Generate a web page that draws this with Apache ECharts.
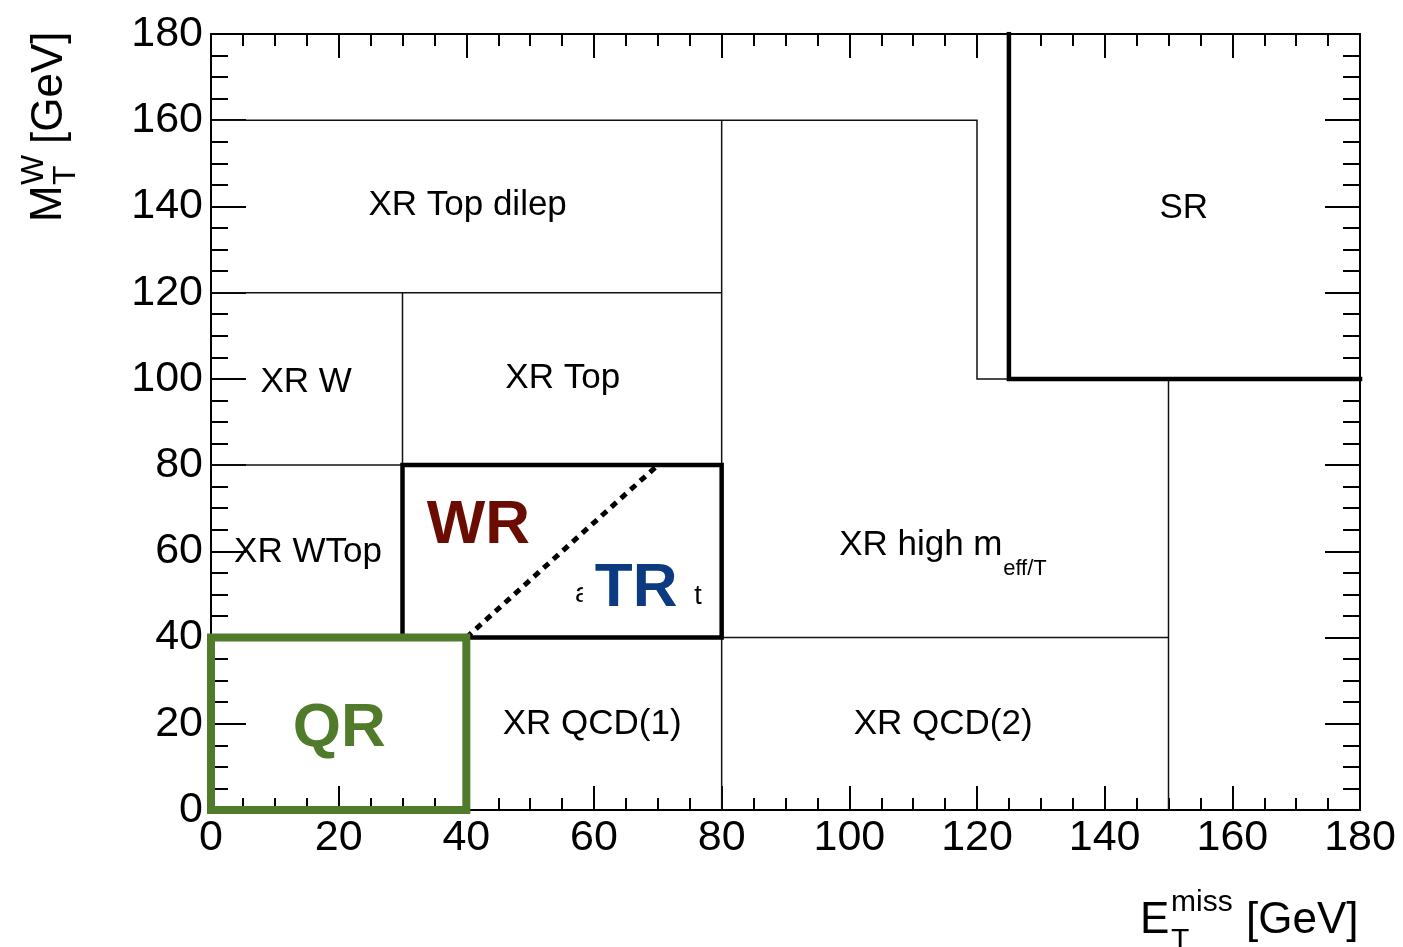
<!DOCTYPE html>
<html><head><meta charset="utf-8">
<script src="https://cdn.jsdelivr.net/npm/echarts@6/dist/echarts.min.js"></script>
<style>html,body{margin:0;padding:0;background:#fff}#c{width:1403px;height:947px}</style>
</head><body><div id="c"></div>
<script>
// ---- data ----
const xTickLabels = ['0','20','40','60','80','100','120','140','160','180'];
const yTickLabels = ['0','20','40','60','80','100','120','140','160','180'];

// thin region boundaries (polylines in GeV units)
const thinSegments = [
  [[0,160],[120,160],[120,100],[125,100]],
  [[0,120],[80,120]],
  [[0,80],[30,80]],
  [[30,80],[30,120]],
  [[80,0],[80,160]],
  [[80,40],[150,40]],
  [[150,0],[150,100]],
  [[0,40],[40,40],[40,0]]
];
// thick black boxes (WR/TR and SR)
const thickSegments = [
  [[30,40],[80,40],[80,80],[30,80],[30,40]],
  [[125,180],[125,100],[180,100]]
];
// QR box
const qrBox = [[0,0],[40,0],[40,40],[0,40],[0,0]];
// WR / TR divider
const divider = [[40,40],[70,80]];

// region labels
const labelTexts = ['a','t','XR Top dilep','XR W','XR Top','XR WTop','XR high m','eff/T','XR QCD(1)','XR QCD(2)','SR','WR','TR','QR'];
const labelX     = [58.2, 76.3, 40.2, 14.9, 55.1, 15.2, 111.2, 124.1, 59.7, 114.7, 152.4, 41.9, 66.6, 20.1];
const labelY     = [50.0, 49.4, 140.8, 99.7, 100.7, 60.3, 61.9, 56.1, 20.4, 20.4, 140.1, 66.7, 52.1, 19.5];
const labelKinds = ['frag','frag','region','region','region','region','region','sub','region','region','region','wr','tr','qr'];

// ---- styles ----
const FONT = '"Liberation Sans", Arial, Helvetica, sans-serif';
const kindStyle = {
  region: {fontSize: 35, color: '#000', offset: [0, 2]},
  sub:    {fontSize: 22, color: '#000', align: 'left', offset: [0, 1]},
  wr:     {fontSize: 62, fontWeight: 'bold', color: '#6a0c02', offset: [0, 3]},
  tr:     {fontSize: 62, fontWeight: 'bold', color: '#0b3a80', backgroundColor: '#fff', padding: [0, 12, 0, 12], offset: [0, 4]},
  qr:     {fontSize: 62, fontWeight: 'bold', color: '#4f7b2a', offset: [0, 3]},
  frag:   {fontSize: 27, color: '#000', offset: [0, 0]}
};

const chart = echarts.init(document.getElementById('c'), null, {renderer: 'canvas'});

function xAxisCfg(pos, showLabel) {
  return {
    type: 'value', position: pos, min: 0, max: 180, interval: 20,
    axisLine: {show: true, onZero: false, lineStyle: {color: '#000', width: 2}},
    axisTick: {show: true, inside: true, length: 24, lineStyle: {color: '#000', width: 2}},
    minorTick: {show: true, splitNumber: 4, length: 12, lineStyle: {color: '#000', width: 2}},
    splitLine: {show: false}, minorSplitLine: {show: false},
    axisLabel: {show: showLabel, fontSize: 43, fontFamily: FONT, color: '#000', margin: 7,
      formatter: v => xTickLabels[Math.round(v / 20)]}
  };
}
function yAxisCfg(pos, showLabel) {
  return {
    type: 'value', position: pos, min: 0, max: 180, interval: 20,
    axisLine: {show: true, onZero: false, lineStyle: {color: '#000', width: 2}},
    axisTick: {show: true, inside: true, length: 35, lineStyle: {color: '#000', width: 2}},
    minorTick: {show: true, splitNumber: 4, length: 17, lineStyle: {color: '#000', width: 2}},
    splitLine: {show: false}, minorSplitLine: {show: false},
    axisLabel: {show: showLabel, fontSize: 43, fontFamily: FONT, color: '#000', margin: 8,
      formatter: v => yTickLabels[Math.round(v / 20)]}
  };
}

const labelData = labelTexts.map((t, i) => {
  const s = kindStyle[labelKinds[i]];
  return {
    name: t, value: [labelX[i], labelY[i]],
    label: Object.assign({show: true, position: 'inside', fontFamily: FONT, formatter: '{b}',
      align: 'center', verticalAlign: 'middle', opacity: 1}, s)
  };
});

function txt(text, x, y, size) {
  return {type: 'text', x: x, y: y, style: {text: text, fontSize: size, fontFamily: FONT, fill: '#000', align: 'left', verticalAlign: 'middle'}};
}

const option = {
  backgroundColor: '#fff',
  animation: false,
  grid: {left: 211, right: 43, top: 34, bottom: 137, containLabel: false, outerBoundsMode: 'none'},
  xAxis: [xAxisCfg('bottom', true), xAxisCfg('top', false)],
  yAxis: [yAxisCfg('left', true), yAxisCfg('right', false)],
  series: [
    {type: 'lines', coordinateSystem: 'cartesian2d', polyline: true, z: 3, silent: true,
      lineStyle: {color: '#111', width: 1.5, opacity: 1, join: 'miter'},
      data: thinSegments.map(c => ({coords: c}))},
    {type: 'lines', coordinateSystem: 'cartesian2d', polyline: true, z: 4, silent: true,
      lineStyle: {color: '#000', width: 4.5, opacity: 1, join: 'miter', cap: 'square'},
      data: thickSegments.map(c => ({coords: c}))},
    {type: 'lines', coordinateSystem: 'cartesian2d', polyline: true, z: 4, silent: true,
      lineStyle: {color: '#000', width: 5, opacity: 1, type: [7, 6]},
      data: [{coords: divider}]},
    {type: 'lines', coordinateSystem: 'cartesian2d', polyline: true, z: 5, silent: true,
      lineStyle: {color: '#4f7b2a', width: 8, opacity: 1, join: 'miter', cap: 'square'},
      data: [{coords: qrBox}]},
    {type: 'scatter', symbolSize: 0, z: 6, silent: true, itemStyle: {opacity: 1},
      emphasis: {disabled: true}, data: labelData}
  ],
  graphic: [
    {type: 'group', x: 0, y: 0, children: [
      txt('E', 1140, 921, 44),
      txt('miss', 1171, 903, 30),
      txt('T', 1171, 941, 30),
      txt('[GeV]', 1246, 921, 44)
    ]},
    {type: 'group', x: 63, y: 222, rotation: Math.PI / 2, children: [
      txt('M', 0, -14.5, 44),
      txt('W', 37, -28.5, 32),
      txt('T', 37, 3.5, 32),
      txt('[GeV]', 78, -13.5, 44)
    ]}
  ]
};
chart.setOption(option);
</script>
</body></html>
